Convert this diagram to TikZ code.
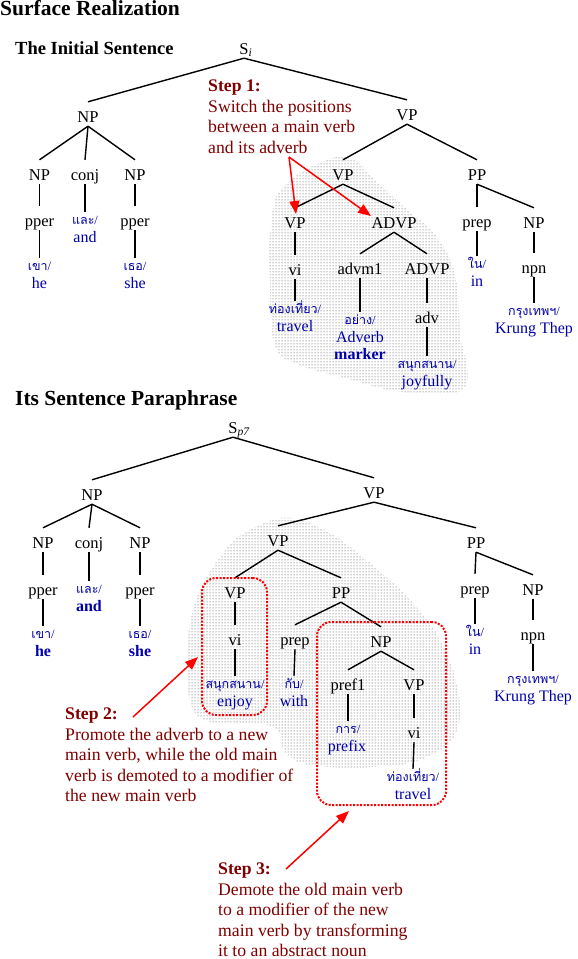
\documentclass[tikz,border=0pt]{standalone}
\usepackage{fontspec}
\setmainfont{Liberation Serif}
\newfontfamily\thaifont[Script=Thai]{Loma}
\usetikzlibrary{patterns,arrows.meta}
\definecolor{wblue}{RGB}{0,0,170}
\definecolor{stepred}{RGB}{128,0,0}
\definecolor{arrred}{RGB}{255,0,0}
\newcommand{\thsl}{{\rmfamily/}}
\tikzset{
  lab/.style={font=\fontsize{16.5}{18}\selectfont, inner xsep=1pt, inner ysep=0pt, text height=20pt, text depth=4pt, anchor=base},
  thw/.style={font=\thaifont\fontsize{12.5}{14}\selectfont, text=wblue, inner xsep=1pt, inner ysep=0pt, text height=12pt, text depth=2pt, anchor=base},
  enw/.style={font=\fontsize{16}{18}\selectfont, text=wblue, inner sep=0pt, anchor=base},
  enwb/.style={enw, font=\bfseries\fontsize{16}{18}\selectfont},
  branch/.style={line width=1.4pt},
  steptext/.style={font=\fontsize{17.7}{20.4}\selectfont, text=stepred, align=left, anchor=north west, inner sep=0pt},
  redarrow/.style={draw=arrred, line width=1.5pt, -{Triangle[length=13pt,width=10pt]}},
  redbox/.style={draw=arrred, line width=2pt, dash pattern=on 2pt off 1.5pt, rounded corners=14pt, inner sep=0pt, outer sep=0pt},
  dotblob/.style={pattern=dots, pattern color=black!75},
  ttl/.style={font=\bfseries\fontsize{21.5}{24}\selectfont, anchor=base west, inner sep=0pt},
  ttlsmall/.style={font=\bfseries\fontsize{18.5}{21}\selectfont, anchor=base west, inner sep=0pt}
}
\begin{document}
\begin{tikzpicture}[x=1pt,y=-1pt]
\fill[white] (0,0) rectangle (578,959);
\useasboundingbox (0,0) rectangle (578,959);

% shaded regions
\fill[dotblob] plot[smooth cycle, tension=0.7] coordinates {(272,215) (285,185) (320,163) (350,158) (375,180) (405,208) (435,235) (455,275) (460,330) (466,385) (430,393) (390,390) (345,378) (300,365) (275,345) (270,280)};
\fill[dotblob] plot[smooth cycle, tension=0.6] coordinates {(290,518) (330,533) (372,565) (410,600) (440,640) (458,690) (455,735) (420,760) (370,767) (310,765) (285,752) (272,726) (210,722) (190,700) (188,640) (200,590) (230,545) (260,525)};

% titles
\node[ttl] (t1) at (0,15) {Surface Realization};
\node[ttlsmall] (t2) at (15,54) {The Initial Sentence};
\node[ttl] (t3) at (15,405) {Its Sentence Paraphrase};

% ---------------- Tree 1 ----------------
\node[lab] (si) at (244,54) {S\rlap{\textsubscript{\itshape i}}};
\node[lab] (np1) at (88,122) {NP};
\node[lab] (vp1) at (407,120) {VP};
\node[lab] (np2) at (39.5,180) {NP};
\node[lab] (conj1) at (85,180) {conj};
\node[lab] (np3) at (135,180) {NP};
\node[lab] (vp2) at (343,180) {VP};
\node[lab] (pp1) at (477,180) {PP};
\node[lab] (pper1) at (39.5,226) {pper};
\node[thw] (and1) at (85,224) {และ\thsl};
\node[enw] (and1e) at (85,242) {and};
\node[lab] (pper2) at (135,226) {pper};
\node[lab] (vp3) at (295,228) {VP};
\node[lab] (advp1) at (394,228) {ADVP};
\node[lab] (prep1) at (477,227) {prep};
\node[lab] (np4) at (534,228) {NP};
\node[thw] (he1) at (39.5,270) {เขา\thsl};
\node[enw] (he1e) at (39.5,288) {he};
\node[thw] (she1) at (135,270) {เธอ\thsl};
\node[enw] (she1e) at (135,288) {she};
\node[lab] (vi1) at (295,275) {vi};
\node[lab] (advm1) at (360,274) {advm1};
\node[lab] (advp2) at (427,274) {ADVP};
\node[thw] (in1) at (477,268) {ใน\thsl};
\node[enw] (in1e) at (477,286) {in};
\node[lab] (npn1) at (534,273) {npn};
\node[thw] (tr1) at (295,313) {ท่องเที่ยว\thsl};
\node[enw] (tr1e) at (295,331) {travel};
\node[thw] (adm) at (360,324) {อย่าง\thsl};
\node[enw] (adme) at (360,342) {Adverb};
\node[enwb] (admm) at (360,359) {marker};
\node[lab] (adv1) at (427,323) {adv};
\node[thw] (kt1) at (534,315) {กรุงเทพฯ\thsl};
\node[enw] (kt1e) at (534,333) {Krung Thep};
\node[thw] (joy1) at (427,368) {สนุกสนาน\thsl};
\node[enw] (joy1e) at (427,386) {joyfully};

\draw[branch] (si.south) -- (np1.north);
\draw[branch] (si.south) -- (vp1.north);
\draw[branch] (np1.south) -- (np2.north);
\draw[branch] (np1.south) -- (conj1.north);
\draw[branch] (np1.south) -- (np3.north);
\draw[branch] (vp1.south) -- (vp2.north);
\draw[branch] (vp1.south) -- (pp1.north);
\draw[branch] (np2.south) -- (pper1.north);
\draw[branch] (conj1.south) -- (and1.north);
\draw[branch] (np3.south) -- (pper2.north);
\draw[branch] (pper1.south) -- (he1.north);
\draw[branch] (pper2.south) -- (she1.north);
\draw[branch] (vp2.south) -- (vp3.north);
\draw[branch] (vp2.south) -- (advp1.north);
\draw[branch] (pp1.south) -- (prep1.north);
\draw[branch] (pp1.south) -- (np4.north);
\draw[branch] (vp3.south) -- (vi1.north);
\draw[branch] (advp1.south) -- (advm1.north);
\draw[branch] (advp1.south) -- (advp2.north);
\draw[branch] (prep1.south) -- (in1.north);
\draw[branch] (np4.south) -- (npn1.north);
\draw[branch] (vi1.south) -- (tr1.north);
\draw[branch] (advm1.south) -- (adm.north);
\draw[branch] (advp2.south) -- (adv1.north);
\draw[branch] (npn1.south) -- (kt1.north);
\draw[branch] (adv1.south) -- (joy1.north);

% Step 1
\node[steptext] (step1) at (208,80) {\textbf{Step 1:}\\Switch the positions\\between a main verb\\and its adverb};
\coordinate (a1s) at (289,157);
\coordinate (a1t) at (296,214);
\coordinate (a1u) at (371,216);
\draw[redarrow] (a1s) -- (a1t);
\draw[redarrow] (a1s) -- (a1u);

% ---------------- Tree 2 ----------------
\node[lab] (sp) at (233,433) {S\rlap{\textsubscript{\itshape p7}}};
\node[lab] (np5) at (92,500) {NP};
\node[lab] (vp4) at (374,498) {VP};
\node[lab] (np6) at (43,548) {NP};
\node[lab] (conj2) at (89,548) {conj};
\node[lab] (np7) at (140,548) {NP};
\node[lab] (vp5) at (278,546) {VP};
\node[lab] (pp2) at (476,548) {PP};
\node[lab] (pper3) at (43,595) {pper};
\node[thw] (and2) at (89,593) {และ\thsl};
\node[enwb] (and2e) at (89,611) {and};
\node[lab] (pper4) at (140,595) {pper};
\node[lab] (vp6) at (235,598) {VP};
\node[lab] (pp3) at (341,598) {PP};
\node[lab] (prep2) at (475,594) {prep};
\node[lab] (np8) at (533,595) {NP};
\node[thw] (he2) at (43,638) {เขา\thsl};
\node[enwb] (he2e) at (43,656) {he};
\node[thw] (she2) at (140,638) {เธอ\thsl};
\node[enwb] (she2e) at (140,656) {she};
\node[lab] (vi2) at (235,645) {vi};
\node[lab] (prep3) at (295,645) {prep};
\node[lab] (np9) at (381,647) {NP};
\node[thw] (in2) at (475,636) {ใน\thsl};
\node[enw] (in2e) at (475,654) {in};
\node[lab] (npn2) at (533,640) {npn};
\node[thw] (enj) at (235,688) {สนุกสนาน\thsl};
\node[enw] (enje) at (235,706) {enjoy};
\node[thw] (with) at (294,688) {กับ\thsl};
\node[enw] (withe) at (294,706) {with};
\node[lab] (pref1) at (348,690) {pref1};
\node[lab] (vp7) at (414,690) {VP};
\node[thw] (kt2) at (533,683) {กรุงเทพฯ\thsl};
\node[enw] (kt2e) at (533,701) {Krung Thep};
\node[thw] (pfx) at (348,733) {การ\thsl};
\node[enw] (pfxe) at (347,751) {prefix};
\node[lab] (vi3) at (414,738) {vi};
\node[thw] (tr2) at (413,781) {ท่องเที่ยว\thsl};
\node[enw] (tr2e) at (413,799) {travel};

\draw[branch] (sp.south) -- (np5.north);
\draw[branch] (sp.south) -- (vp4.north);
\draw[branch] (np5.south) -- (np6.north);
\draw[branch] (np5.south) -- (conj2.north);
\draw[branch] (np5.south) -- (np7.north);
\draw[branch] (vp4.south) -- (vp5.north);
\draw[branch] (vp4.south) -- (pp2.north);
\draw[branch] (np6.south) -- (pper3.north);
\draw[branch] (conj2.south) -- (and2.north);
\draw[branch] (np7.south) -- (pper4.north);
\draw[branch] (pper3.south) -- (he2.north);
\draw[branch] (pper4.south) -- (she2.north);
\draw[branch] (vp5.south) -- (vp6.north);
\draw[branch] (vp5.south) -- (pp3.north);
\draw[branch] (pp2.south) -- (prep2.north);
\draw[branch] (pp2.south) -- (np8.north);
\draw[branch] (vp6.south) -- (vi2.north);
\draw[branch] (pp3.south) -- (prep3.north);
\draw[branch] (pp3.south) -- (np9.north);
\draw[branch] (prep2.south) -- (in2.north);
\draw[branch] (np8.south) -- (npn2.north);
\draw[branch] (vi2.south) -- (enj.north);
\draw[branch] (prep3.south) -- (with.north);
\draw[branch] (np9.south) -- (pref1.north);
\draw[branch] (np9.south) -- (vp7.north);
\draw[branch] (npn2.south) -- (kt2.north);
\draw[branch] (pref1.south) -- (pfx.north);
\draw[branch] (vp7.south) -- (vi3.north);
\draw[branch] (vi3.south) -- (tr2.north);

% red boxes
\node[redbox, minimum width=65pt, minimum height=137pt] (boxA) at (234.5,646.5) {};
\node[redbox, minimum width=129pt, minimum height=183pt] (boxB) at (381.5,713.5) {};

% Step 2
\node[steptext] (step2) at (65,708) {\textbf{Step 2:}\\Promote the adverb to a new\\main verb, while the old main\\verb is demoted to a modifier of\\the new main verb};
\coordinate (a2s) at (133,717);
\coordinate (a2t) at (198,657);
\draw[redarrow] (a2s) -- (a2t);

% Step 3
\node[steptext] (step3) at (218,863) {\textbf{Step 3:}\\Demote the old main verb\\to a modifier of the new\\main verb by transforming\\it to an abstract noun};
\coordinate (a3s) at (286,869);
\coordinate (a3t) at (349,811);
\draw[redarrow] (a3s) -- (a3t);
\end{tikzpicture}
\end{document}
